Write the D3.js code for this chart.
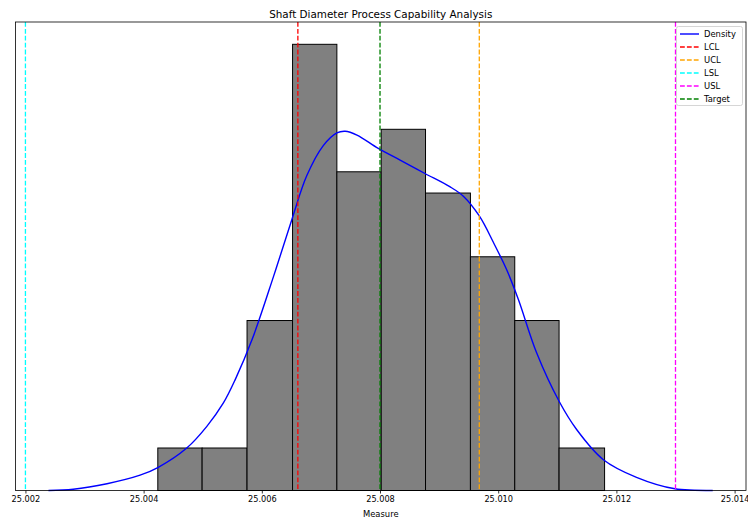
<!DOCTYPE html>
<html>
<head>
<meta charset="utf-8">
<script src="https://cdn.jsdelivr.net/npm/d3@7"></script>
<style>
  body { margin: 0; background: #fff; }
  text { font-family: "DejaVu Sans", sans-serif; }
</style>
</head>
<body>
<svg id="chart" width="748" height="518"></svg>
<script>
// histogram bin edges and counts (Measure)
const binEdges = [25.00424, 25.00499, 25.00575, 25.00652, 25.00727, 25.00802,
                  25.00877, 25.00953, 25.01028, 25.01103, 25.01180];
const binCounts = [2, 2, 8, 21, 15, 17, 14, 11, 8, 2];

// density curve, scaled to the count axis
const densityX = [25.00239, 25.00281, 25.00338, 25.00394, 25.00424, 25.00473, 25.00507,
                  25.00535, 25.00555, 25.00584, 25.00620, 25.00651, 25.00676, 25.00704,
                  25.00727, 25.00741, 25.00761, 25.00797, 25.00834, 25.00876, 25.00918,
                  25.00941, 25.00968, 25.00992, 25.01014, 25.01034, 25.01065, 25.01103,
                  25.01133, 25.01178, 25.01234, 25.01299, 25.01363];
const densityY = [0, 0.06, 0.32, 0.72, 1.08, 2.0, 3.02, 4.12, 5.22, 7.14, 10.09, 12.77,
                  14.81, 16.23, 16.83, 16.91, 16.73, 16.10, 15.55, 14.92, 14.30, 13.85,
                  12.92, 11.67, 10.41, 9.0, 6.48, 4.2, 2.86, 1.45, 0.62, 0.08, 0];

// reference lines
const refNames = ["LCL", "UCL", "LSL", "USL", "Target"];
const refValues = [25.00661, 25.00968, 25.002, 25.013, 25.008];
const refColors = ["red", "orange", "cyan", "magenta", "green"];

const xTicks = [25.002, 25.004, 25.006, 25.008, 25.010, 25.012, 25.014];

const svg = d3.select("#chart");
const m = {left: 15.5, right: 746, top: 22, bottom: 490.5};
const dash = "4.8,2.1";

const x = d3.scaleLinear().domain([25.001832, 25.014193]).range([m.left, m.right]);
const y = d3.scaleLinear().domain([0, 22.05]).range([m.bottom, m.top]);

const bins = binCounts.map((c, i) => ({x0: binEdges[i], x1: binEdges[i + 1], n: c}));

svg.append("g").selectAll("rect")
    .data(bins)
    .join("rect")
    .attr("x", d => x(d.x0))
    .attr("y", d => y(d.n))
    .attr("width", d => x(d.x1) - x(d.x0))
    .attr("height", d => y(0) - y(d.n))
    .attr("fill", "#808080")
    .attr("stroke", "#000")
    .attr("stroke-width", 1);

const line = d3.line()
    .x(d => x(d[0]))
    .y(d => y(d[1]))
    .curve(d3.curveCatmullRom.alpha(0.5));

svg.append("path")
    .datum(d3.zip(densityX, densityY))
    .attr("d", line)
    .attr("fill", "none")
    .attr("stroke", "blue")
    .attr("stroke-width", 1.4);

svg.append("g").selectAll("line")
    .data(refValues)
    .join("line")
    .attr("x1", d => x(d)).attr("x2", d => x(d))
    .attr("y1", m.top).attr("y2", m.bottom)
    .attr("stroke", (d, i) => refColors[i])
    .attr("stroke-width", 1.3)
    .attr("stroke-dasharray", dash);

// x axis
const xAxis = d3.axisBottom(x)
    .tickValues(xTicks)
    .tickFormat(d3.format(".3f"))
    .tickSizeOuter(0)
    .tickSize(3)
    .tickPadding(3);

const gx = svg.append("g")
    .attr("transform", `translate(0,${m.bottom})`)
    .call(xAxis);
gx.select(".domain").remove();
gx.selectAll(".tick line").attr("stroke", "#000").attr("stroke-width", 0.8);
gx.selectAll(".tick text").attr("font-size", 8.2).attr("fill", "#000")
    .attr("font-family", "DejaVu Sans, sans-serif");

// frame
svg.append("rect")
    .attr("x", m.left).attr("y", m.top)
    .attr("width", m.right - m.left).attr("height", m.bottom - m.top)
    .attr("fill", "none")
    .attr("stroke", "#000")
    .attr("stroke-width", 0.8);

svg.append("text")
    .attr("x", (m.left + m.right) / 2).attr("y", 17.8)
    .attr("text-anchor", "middle")
    .attr("font-size", 10.4)
    .text("Shaft Diameter Process Capability Analysis");

svg.append("text")
    .attr("x", (m.left + m.right) / 2).attr("y", 517)
    .attr("text-anchor", "middle")
    .attr("font-size", 8.4)
    .text("Measure");

// legend
const legend = svg.append("g");
legend.append("rect")
    .attr("x", 676.5).attr("y", 26.5)
    .attr("width", 66).attr("height", 79)
    .attr("rx", 2)
    .attr("fill", "#fff").attr("fill-opacity", 0.8)
    .attr("stroke", "#ccc").attr("stroke-width", 0.8);

const legendItems = [{name: "Density", color: "blue", dash: null}]
    .concat(refNames.map((n, i) => ({name: n, color: refColors[i], dash: dash})));

const li = legend.selectAll("g.item")
    .data(legendItems)
    .join("g")
    .attr("class", "item")
    .attr("transform", (d, i) => `translate(0,${34 + i * 13})`);

li.append("line")
    .attr("x1", 680).attr("x2", 699)
    .attr("stroke", d => d.color)
    .attr("stroke-width", 1.4)
    .attr("stroke-dasharray", d => d.dash);

li.append("text")
    .attr("x", 704).attr("y", 3)
    .attr("font-size", 8.4)
    .text(d => d.name);
</script>
</body>
</html>
